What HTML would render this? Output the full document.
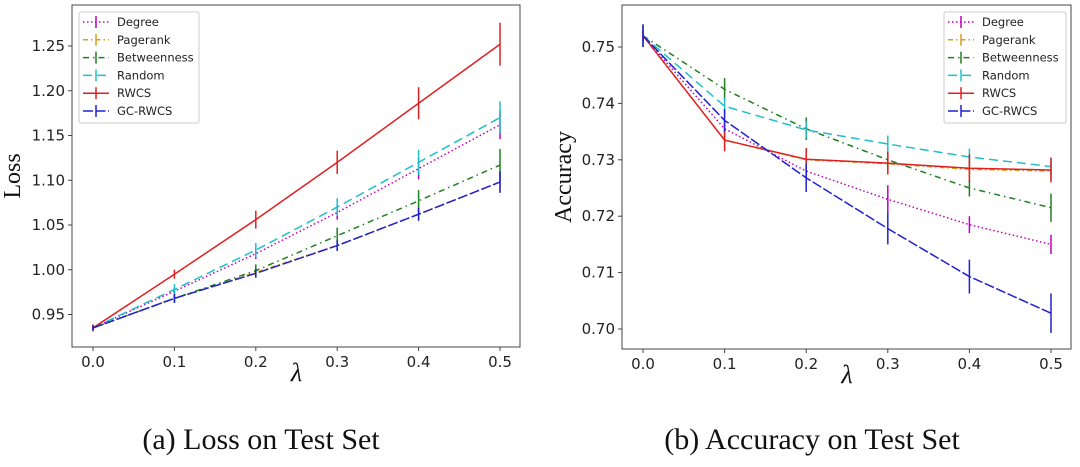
<!DOCTYPE html>
<html><head><meta charset="utf-8"><style>
html,body{margin:0;padding:0;background:#fff;width:1080px;height:467px;overflow:hidden}
svg{display:block}
.tick{font-family:"DejaVu Sans","Liberation Sans",sans-serif;font-size:15px;fill:#222}
.leg{font-family:"DejaVu Sans","Liberation Sans",sans-serif;font-size:11.5px;fill:#222}
.ser{font-family:"Liberation Serif",serif;fill:#111}
</style></head><body>
<svg id="fig" width="1080" height="467">
<text class="ser" x="261" y="449" font-size="30" text-anchor="middle">(a) Loss on Test Set</text>
<text class="ser" x="812" y="449" font-size="30" text-anchor="middle">(b) Accuracy on Test Set</text>
</svg>
<script>
const xVals=[0,0.1,0.2,0.3,0.4,0.5];
const xTicks=["0.0","0.1","0.2","0.3","0.4","0.5"];
const seriesNames=["Degree","Pagerank","Betweenness","Random","RWCS","GC-RWCS"];
const seriesColors=["#c000c0","#d4a020","#208020","#20c0c8","#e02020","#2020d0"];
const seriesDash=["1.5,2.5","5,3,1.5,3","6,4,1.5,4","9,5","","10,2.5"];
const lossDegree=[0.935,0.976,1.018,1.064,1.113,1.162];
const lossPagerank=[0.935,0.968,0.997,1.027,1.062,1.098];
const lossBetweenness=[0.935,0.968,0.999,1.038,1.077,1.117];
const lossRandom=[0.935,0.978,1.022,1.070,1.120,1.170];
const lossRWCS=[0.935,0.995,1.056,1.120,1.186,1.252];
const lossGC=[0.935,0.968,0.996,1.027,1.062,1.098];
const lossErrDegree=[0.003,0.004,0.006,0.008,0.012,0.016];
const lossErrPagerank=[0.003,0.004,0.005,0.006,0.008,0.012];
const lossErrBetweenness=[0.003,0.005,0.007,0.009,0.012,0.018];
const lossErrRandom=[0.003,0.006,0.008,0.01,0.014,0.018];
const lossErrRWCS=[0.004,0.005,0.01,0.013,0.018,0.024];
const lossErrGC=[0.003,0.005,0.005,0.006,0.007,0.012];
const lossTicks=[0.95,1.00,1.05,1.10,1.15,1.20,1.25];
const accDegree=[0.752,0.7355,0.728,0.723,0.7185,0.715];
const accPagerank=[0.752,0.7335,0.7300,0.7293,0.7283,0.7280];
const accBetweenness=[0.752,0.7425,0.7355,0.7300,0.725,0.7215];
const accRandom=[0.752,0.7395,0.7353,0.7328,0.7305,0.7288];
const accRWCS=[0.752,0.7335,0.7301,0.7294,0.7285,0.7282];
const accGC=[0.752,0.737,0.7268,0.7178,0.7093,0.7028];
const accErrDegree=[0.001,0.0015,0.0015,0.0025,0.0015,0.0017];
const accErrPagerank=[0.001,0.0015,0.0015,0.0015,0.0015,0.0015];
const accErrBetweenness=[0.002,0.002,0.002,0.002,0.0015,0.0025];
const accErrRandom=[0.001,0.0015,0.0015,0.0015,0.0015,0.0015];
const accErrRWCS=[0.001,0.002,0.002,0.002,0.0025,0.0022];
const accErrGC=[0.002,0.002,0.0025,0.0028,0.003,0.0035];
const accTicks=[0.70,0.71,0.72,0.73,0.74,0.75];

const NS="http://www.w3.org/2000/svg";
const svg=document.getElementById('fig');
function mk(tag,attrs,parent){const e=document.createElementNS(NS,tag);for(const k in attrs)e.setAttribute(k,attrs[k]);(parent||svg).appendChild(e);return e;}

function panel(cfg){
  const g=mk('g',{});
  
  
  const sx=v=>cfg.x0px+(v-0)/(0.5)*(cfg.x1px-cfg.x0px);
  const sy=v=>cfg.yA+(v-cfg.vA)/(cfg.vB-cfg.vA)*(cfg.yB-cfg.yA);
  const fr=mk('rect',{x:cfg.L,y:cfg.T,width:cfg.R-cfg.L,height:cfg.B-cfg.T,fill:'none',stroke:'#444','stroke-width':1},g);
  
  
  xVals.forEach((v,i)=>{
    const x=sx(v);
    mk('line',{x1:x,x2:x,y1:cfg.B,y2:cfg.B+4,stroke:'#444'},g);
    const t=mk('text',{x:x,y:cfg.B+20,'text-anchor':'middle',class:'tick'},g);
    t.textContent=xTicks[i];
    
    
  });
  cfg.yTicks.forEach(v=>{
    const y=sy(v);
    mk('line',{x1:cfg.L-4,x2:cfg.L,y1:y,y2:y,stroke:'#444'},g);
    const t=mk('text',{x:cfg.L-7,y:y+5,'text-anchor':'end',class:'tick'},g);
    t.textContent=v.toFixed(2);
    
    
  });
  const xl=mk('text',{x:(cfg.x0px+cfg.x1px)/2,y:cfg.B+34,'text-anchor':'middle',class:'ser','font-size':26,'font-style':'italic'},g);
  xl.textContent='λ';
  
  
  const yl=mk('text',{x:0,y:0,'text-anchor':'middle',class:'ser','font-size':24,transform:`translate(${cfg.ylx},${(cfg.T+cfg.B)/2}) rotate(-90)`},g);
  yl.textContent=cfg.ylabel;
  
  
  cfg.data.forEach((d,si)=>{
    const sg=mk('g',{},g);
    
    
    const pts=xVals.map((v,i)=>sx(v)+','+sy(d[i])).join(' ');
    const a={points:pts,fill:'none',stroke:seriesColors[si],'stroke-width':1.5};
    if(seriesDash[si])a['stroke-dasharray']=seriesDash[si];
    mk('polyline',a,sg);
    xVals.forEach((v,i)=>{
      const e=cfg.err[si][i];
      const eb=mk('line',{x1:sx(v),x2:sx(v),y1:sy(d[i]-e),y2:sy(d[i]+e),stroke:seriesColors[si],'stroke-width':1.5},sg);
      
      
    });
  });
  const lg=mk('g',{},g);
  
  
  mk('rect',{x:cfg.legX,y:12,width:cfg.legW,height:111,fill:'#fff','fill-opacity':0.85,stroke:'#ccc',rx:2},lg);
  seriesNames.forEach((n,i)=>{
    const y=22+i*17.8;
    const eg=mk('g',{},lg);
    
    
    const a={x1:cfg.legX+4,x2:cfg.legX+30,y1:y,y2:y,stroke:seriesColors[i],'stroke-width':1.5};
    if(seriesDash[i])a['stroke-dasharray']=seriesDash[i];
    mk('line',a,eg);
    mk('line',{x1:cfg.legX+17,x2:cfg.legX+17,y1:y-6,y2:y+6,stroke:seriesColors[i],'stroke-width':1.5},eg);
    const t=mk('text',{x:cfg.legX+38,y:y+4,class:'leg'},eg);
    t.textContent=n;
  });
}
panel({id:'loss',L:72,R:520,T:5,B:347,x0px:93,x1px:500,vA:0.95,yA:314.5,vB:1.25,yB:46,yTicks:lossTicks,ylabel:'Loss',ylx:20,
  data:[lossDegree,lossPagerank,lossBetweenness,lossRandom,lossRWCS,lossGC],
  err:[lossErrDegree,lossErrPagerank,lossErrBetweenness,lossErrRandom,lossErrRWCS,lossErrGC],legX:79,legW:120});
panel({id:'accuracy',L:622,R:1071,T:5,B:349,x0px:643,x1px:1051,vA:0.70,yA:329,vB:0.75,yB:47,yTicks:accTicks,ylabel:'Accuracy',ylx:571,
  data:[accDegree,accPagerank,accBetweenness,accRandom,accRWCS,accGC],
  err:[accErrDegree,accErrPagerank,accErrBetweenness,accErrRandom,accErrRWCS,accErrGC],legX:944,legW:122});
</script>
</body></html>
